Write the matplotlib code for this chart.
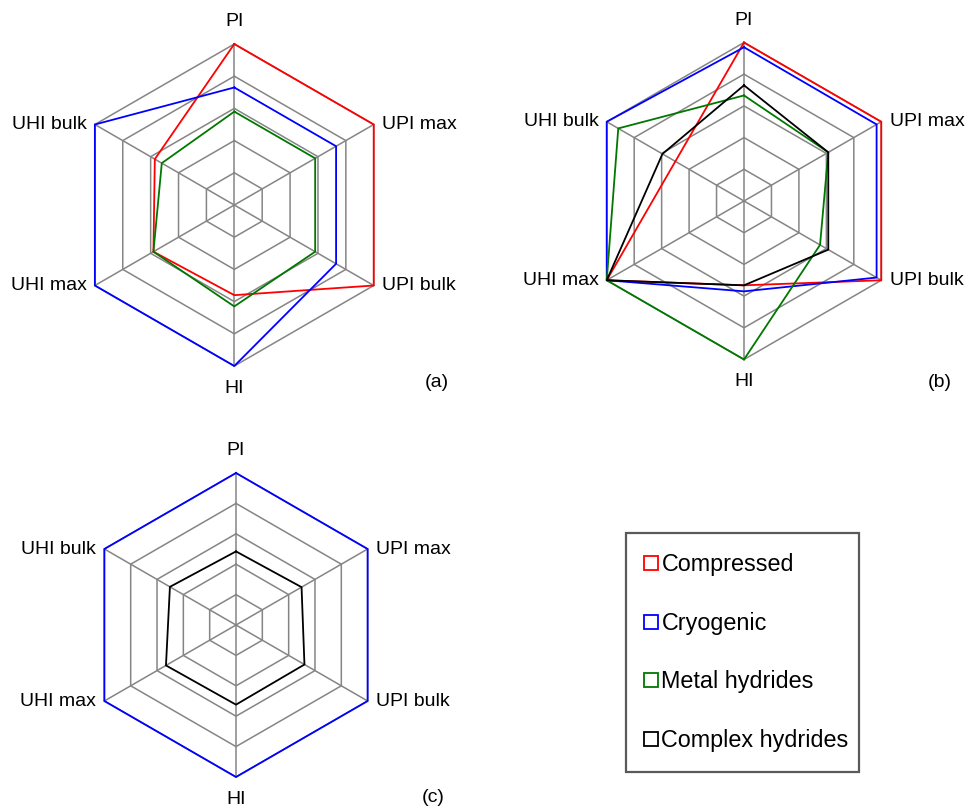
import numpy as np
import matplotlib.pyplot as plt
from matplotlib.lines import Line2D

plt.rcParams['font.family'] = ['Liberation Sans', 'DejaVu Sans']

W, H = 973, 810
fig = plt.figure(figsize=(W / 100, H / 100), dpi=100)

# spokes, clockwise from the top
labels = ['PI', 'UPI max', 'UPI bulk', 'HI', 'UHI max', 'UHI bulk']
angles = np.deg2rad([90, 30, -30, -90, -150, 150])
nrings = 5

# (a)
a_compressed = [5.0, 5.0, 5.0, 2.8, 2.9, 2.85]
a_cryogenic = [3.65, 3.65, 3.65, 5.0, 5.0, 5.0]
a_metal = [2.9, 2.9, 2.9, 3.15, 2.9, 2.6]
# (b)
b_compressed = [5.0, 5.0, 5.0, 2.66, 5.0, 2.5]
b_cryogenic = [4.85, 4.83, 4.83, 2.85, 5.0, 5.0]
b_metal = [3.33, 3.07, 2.77, 5.0, 5.0, 4.58]
b_complex = [3.65, 3.07, 3.07, 2.66, 5.0, 2.97]
# (c)
c_cryogenic = [5.0, 5.0, 5.0, 5.0, 5.0, 5.0]
c_complex = [2.42, 2.49, 2.6, 2.62, 2.66, 2.51]

colors = {'Compressed': '#ff0000', 'Cryogenic': '#0000ff',
          'Metal hydrides': '#007800', 'Complex hydrides': '#000000'}
grid_col = '#858585'


def closed(a):
    return np.append(a, a[0])


def radar(cx, cy, R, series):
    half = 1.7
    ax = fig.add_axes([(cx - half * R) / W, (H - cy - half * R) / H,
                       2 * half * R / W, 2 * half * R / H])
    ax.set_xlim(-half, half)
    ax.set_ylim(-half, half)
    ax.axis('off')
    ux, uy = np.cos(angles), np.sin(angles)
    for k in range(1, nrings + 1):
        r = k / nrings
        ax.plot(closed(ux) * r, closed(uy) * r, color=grid_col, lw=1.1)
    for x, y in zip(ux, uy):
        ax.plot([0, x], [0, y], color=grid_col, lw=1.1)
    for name, vals in series:
        r = np.array(vals) / nrings
        ax.plot(closed(r * ux), closed(r * uy), color=colors[name], lw=1.3,
                clip_on=False)
    for lab, x, y in zip(labels, ux, uy):
        if abs(x) < 0.01:
            ax.annotate(lab, (x, y), xytext=(0, 16 * np.sign(y)),
                        textcoords='offset points', ha='center', va='center',
                        fontsize=14)
        else:
            ax.annotate(lab, (x, y), xytext=(6 * np.sign(x), 0),
                        textcoords='offset points',
                        ha='left' if x > 0 else 'right', va='center',
                        fontsize=14)
    return ax


radar(234.3, 205, 161, [('Compressed', a_compressed),
                        ('Cryogenic', a_cryogenic),
                        ('Metal hydrides', a_metal)])
radar(744, 201, 158.5, [('Compressed', b_compressed),
                        ('Cryogenic', b_cryogenic),
                        ('Metal hydrides', b_metal),
                        ('Complex hydrides', b_complex)])
radar(236, 625, 152, [('Cryogenic', c_cryogenic),
                      ('Complex hydrides', c_complex)])

for tag, x, y in [('(a)', 437, 383), ('(b)', 940, 383), ('(c)', 433, 797)]:
    fig.text(x / W, 1 - y / H, tag, ha='center', va='center', fontsize=14)

handles = [Line2D([], [], ls='none', marker='s', ms=10, mfc='white',
                  mec=colors[n], mew=1.3, label=n) for n in colors]
leg = fig.legend(handles=handles, loc='upper left', mode='expand',
                 bbox_to_anchor=(626 / W, 1 - 533 / H, 233 / W, 0),
                 borderaxespad=0, fancybox=False, edgecolor='#5a5a5a',
                 fontsize=16.8, borderpad=0.86, labelspacing=1.53,
                 handlelength=0.38, handletextpad=0.28, framealpha=1)
leg.get_frame().set_linewidth(1.6)

fig.savefig('out.png', dpi=100)
